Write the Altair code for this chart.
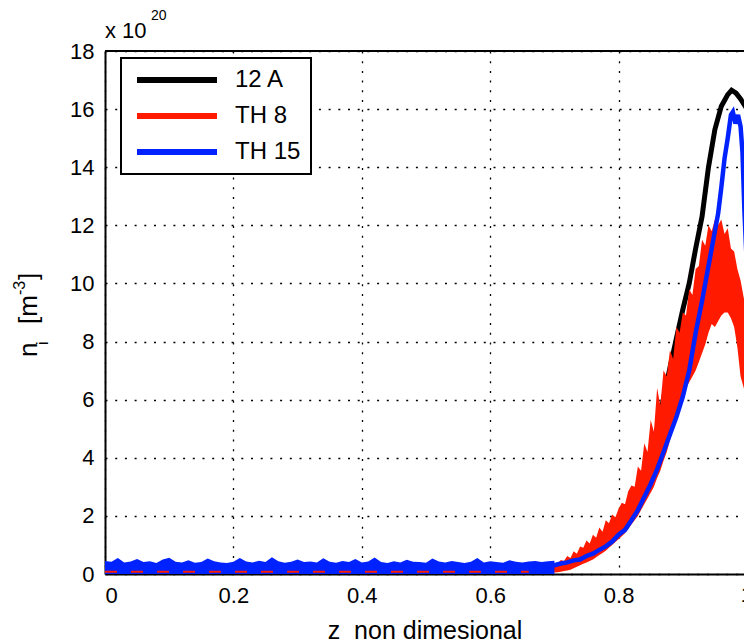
import altair as alt
import pandas as pd

series_names = ["12 A", "TH 8", "TH 15"]
series_colors = ["#000000", "#ff1a00", "#0022ff"]

# 12 A (black)
black_x = [0.0, 0.66, 0.68, 0.70, 0.72, 0.74, 0.76, 0.78, 0.80, 0.82, 0.84, 0.86, 0.88, 0.89,
           0.90, 0.91, 0.92, 0.93, 0.94, 0.95, 0.96, 0.97, 0.976, 0.983, 0.99, 1.0]
black_y = [0.05, 0.05, 0.1, 0.2, 0.35, 0.55, 0.85, 1.2, 1.7, 2.4, 3.3, 5.0, 7.1, 8.1,
           9.1, 10.0, 11.2, 12.3, 14.0, 15.3, 16.1, 16.5, 16.65, 16.55, 16.35, 16.0]

# TH 15 (blue) rising part
blue_x = [0.66, 0.68, 0.70, 0.71, 0.72, 0.73, 0.74, 0.75, 0.76, 0.77, 0.78, 0.79, 0.80, 0.81,
          0.82, 0.83, 0.84, 0.85, 0.86, 0.87, 0.88, 0.89, 0.90, 0.91, 0.92, 0.93, 0.94, 0.95,
          0.955, 0.96, 0.965, 0.97, 0.975, 0.978, 0.982, 0.986, 0.99, 0.993, 0.996, 1.0]
blue_y = [0.25, 0.25, 0.3, 0.36, 0.4, 0.47, 0.5, 0.62, 0.7, 0.83, 0.95, 1.12, 1.35, 1.52,
          1.85, 2.2, 2.65, 3.1, 3.6, 4.2, 4.8, 5.4, 6.1, 7.0, 8.3, 9.4, 10.6, 11.8,
          12.4, 13.3, 14.3, 15.0, 15.8, 15.9, 15.5, 15.8, 15.4, 14.5, 12.5, 10.5]

# TH 15 noise near the baseline
blue_base_x = [round(i * 0.01, 2) for i in range(71)]
blue_base_top = [0.45, 0.42, 0.55, 0.40, 0.43, 0.52, 0.41, 0.44, 0.38, 0.50, 0.56, 0.42, 0.40,
                 0.47, 0.39, 0.41, 0.53, 0.44, 0.40, 0.38, 0.42, 0.55, 0.43, 0.40, 0.46, 0.41,
                 0.58, 0.44, 0.39, 0.42, 0.50, 0.41, 0.43, 0.40, 0.54, 0.42, 0.39, 0.45, 0.41,
                 0.52, 0.40, 0.43, 0.57, 0.41, 0.38, 0.44, 0.40, 0.49, 0.42, 0.41, 0.39, 0.53,
                 0.43, 0.40, 0.45, 0.41, 0.38, 0.42, 0.55, 0.40, 0.44, 0.41, 0.39, 0.47, 0.42,
                 0.40, 0.43, 0.45, 0.41, 0.44, 0.46]

# TH 8 (red) noisy band
red_x = [round(0.66 + i * 0.005, 3) for i in range(69)]
red_low = [0.00, 0.00, 0.00, 0.00, 0.00, 0.02, 0.03, 0.04, 0.05, 0.06, 0.08, 0.10, 0.12, 0.15,
           0.20, 0.25, 0.30, 0.35, 0.40, 0.45, 0.50, 0.58, 0.65, 0.72, 0.80, 0.90, 1.00, 1.10,
           1.20, 1.30, 1.40, 1.55, 1.70, 1.85, 2.00, 2.20, 2.40, 2.60, 2.80, 3.00, 3.30, 3.55,
           3.90, 4.20, 4.60, 5.00, 5.40, 5.80, 6.10, 6.40, 6.60, 6.80, 7.00, 7.30, 7.60, 7.90,
           8.30, 8.60, 8.50, 8.70, 8.90, 9.00, 9.00, 8.80, 8.50, 7.80, 6.80, 6.40, 6.20]
red_high = [0.10, 0.15, 0.12, 0.20, 0.18, 0.28, 0.25, 0.33, 0.38, 0.35, 0.48, 0.45, 0.62, 0.55,
            0.78, 0.70, 0.95, 0.90, 1.15, 1.05, 1.35, 1.25, 1.60, 1.45, 1.85, 1.75, 2.05, 1.95,
            2.25, 2.45, 2.40, 2.85, 3.05, 3.00, 3.70, 3.55, 4.50, 4.20, 5.30, 4.90, 6.40, 5.80,
            7.00, 6.80, 7.70, 7.40, 8.50, 8.30, 9.00, 8.90, 9.80, 9.60, 10.50, 10.60, 11.50,
            11.30, 12.00, 11.80, 12.20, 12.00, 12.20, 11.70, 11.90, 11.20, 11.10, 10.50, 10.10,
            9.50, 9.20]
red_base_x = [0.0, 0.66]
red_base_y = [0.08, 0.08]

x_ticks = [0, 0.2, 0.4, 0.6, 0.8, 1.0]
y_ticks = [0, 2, 4, 6, 8, 10, 12, 14, 16, 18]

FONT = "Liberation Sans"

black_df = pd.DataFrame({"x": black_x, "y": black_y, "s": "12 A"})
blue_df = pd.DataFrame({"x": blue_x, "y": blue_y, "s": "TH 15"})
blue_base_df = pd.DataFrame({"x": blue_base_x, "top": blue_base_top, "bot": 0.0})
red_df = pd.DataFrame({"x": red_x, "lo": red_low, "hi": red_high})
red_base_df = pd.DataFrame({"x": red_base_x, "y": red_base_y, "s": "TH 8"})

xscale = alt.Scale(domain=[0, 0.99533], nice=False, zero=False)
yscale = alt.Scale(domain=[0, 18], nice=False)
color_scale = alt.Scale(domain=series_names, range=series_colors)

x_axis = alt.Axis(values=x_ticks, format="~g", title="z\u00a0\u00a0non dimesional",
                  titleY=64, titleBaseline="alphabetic")
y_axis = alt.Axis(values=y_ticks, title=None)

legend = alt.Legend(
    title=None, orient="none", legendX=16, legendY=7, padding=10,
    fillColor="white", strokeColor="black",
    symbolType="M-5,0L5,0", symbolSize=256, symbolStrokeWidth=6,
    symbolOffset=34, labelOffset=46, rowPadding=12,
    labelFont=FONT, labelFontSize=24, labelColor="black", labelLimit=300,
)

black = alt.Chart(black_df).mark_line(strokeWidth=5, clip=True).encode(
    x=alt.X("x:Q", scale=xscale, axis=x_axis),
    y=alt.Y("y:Q", scale=yscale, axis=y_axis),
    color=alt.Color("s:N", scale=color_scale, legend=legend, sort=series_names),
)

red = alt.Chart(red_df).mark_area(color=series_colors[1], opacity=1, clip=True).encode(
    x="x:Q", y="lo:Q", y2="hi:Q"
)

blue_base = alt.Chart(blue_base_df).mark_area(color=series_colors[2], opacity=1, clip=True).encode(
    x="x:Q", y="bot:Q", y2="top:Q"
)

red_base = alt.Chart(red_base_df).mark_line(strokeWidth=2, strokeDash=[12, 14], clip=True).encode(
    x="x:Q", y="y:Q", color=alt.Color("s:N", scale=color_scale, legend=legend, sort=series_names)
)

blue = alt.Chart(blue_df).mark_line(strokeWidth=4.5, clip=True).encode(
    x="x:Q", y="y:Q",
    color=alt.Color("s:N", scale=color_scale, legend=legend, sort=series_names),
)

top_border = alt.Chart(pd.DataFrame({"y": [18]})).mark_rule(color="black", strokeWidth=2).encode(
    y="y:Q"
)

one = pd.DataFrame({"a": [0]})

# the last x tick label "1", which sits just past the cropped right edge (as in the reference)
last_tick = alt.Chart(pd.DataFrame({"x": [x_ticks[-1]]})).mark_text(
    text="1", font=FONT, fontSize=22, color="black", align="center", baseline="top"
).encode(x="x:Q", y=alt.value(534))


def label(text, x, y, size, angle=0):
    kw = dict(text=text, font=FONT, fontSize=size, color="black", align="left",
              baseline="alphabetic")
    if angle:
        kw["angle"] = angle
    return alt.Chart(one).mark_text(**kw).encode(x=alt.value(x), y=alt.value(y))


texts = [
    label("x 10", 0, -13, 22),
    label("20", 46, -31, 14),
    label("n", -68, 306, 26, 270),
    label("i", -57, 294, 16, 270),
    label("[m", -68, 273, 26, 270),
    label("-3", -80, 244, 16, 270),
    label("]", -68, 229, 26, 270),
]

chart = alt.layer(black, red, blue_base, red_base, blue, top_border, last_tick, *texts).properties(
    width=639, height=523,
    autosize=alt.AutoSizeParams(type="none"),
    padding={"left": 105, "top": 51, "right": 0, "bottom": 70},
    background="white",
).configure_view(stroke=None).configure_axis(
    labelFont=FONT, labelFontSize=22, labelColor="black", labelPadding=11,
    titleFont=FONT, titleFontSize=25, titleFontWeight="normal", titleColor="black",
    ticks=False, domainColor="black", domainWidth=2,
    gridColor="black", gridDash=[2, 7.7], gridWidth=1.3, gridOpacity=1,
).configure_legend(strokeWidth=2)

chart.save("out.html", embed_options={"renderer": "svg", "actions": False})
